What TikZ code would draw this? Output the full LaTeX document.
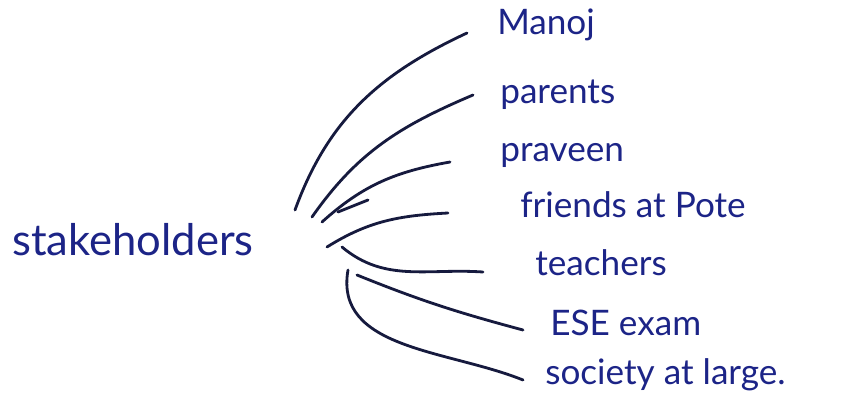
\documentclass[tikz,border=0pt]{standalone}
\usepackage{fontspec}
\setmainfont{Lato}
\usetikzlibrary{calc}
\definecolor{cink}{RGB}{28,36,135}
\definecolor{cpen}{RGB}{22,26,62}

\begin{document}
\begin{tikzpicture}[font=\fontsize{25}{29}\selectfont,
   label/.style={text=cink, anchor=west, inner sep=0pt},
   branch/.style={cpen, line width=2pt, line cap=round}]
  \useasboundingbox (0,0) rectangle (21.4,10.35);
  \node[label, font=\fontsize{31}{35}\selectfont] (sh) at (0.3,4.35) {stakeholders};
  \node[label] (mj) at (12.425,9.725) {Manoj};
  \node[label] (pa) at (12.5,7.975) {parents};
  \node[label] (pr) at (12.5,6.475) {praveen};
  \node[label] (fr) at (13.0,5.225) {friends at Pote};
  \node[label] (te) at (13.375,3.775) {teachers};
  \node[label] (es) at (13.75,2.275) {ESE exam};
  \node[label] (so) at (13.625,0.975) {society at large.};
  \draw[branch] ($(sh.west)+(7.075,0.75)$) to[out=70,in=205] ($(mj.west)+(-0.75,-0.2)$);
  \draw[branch] ($(sh.west)+(7.5,0.575)$) to[out=55,in=203] ($(pa.west)+(-0.675,0)$);
  \draw[branch] ($(sh.west)+(7.75,0.45)$) to[out=42,in=190] ($(pr.west)+(-1.25,-0.175)$);
  \draw[branch] ($(sh.west)+(8.15,0.7)$) -- ($(sh.west)+(8.9,1.0)$);
  \draw[branch] ($(sh.west)+(7.875,-0.175)$) to[out=32,in=183] ($(fr.west)+(-1.8,-0.2)$);
  \draw[branch] ($(sh.west)+(8.25,-0.175)$) to[out=-40,in=176] ($(te.west)+(-1.3,-0.225)$);
  \draw[branch] ($(sh.west)+(8.625,-0.875)$) to[out=-22,in=165] ($(es.west)+(-0.675,-0.175)$);
  \draw[branch] ($(sh.west)+(8.4,-0.75)$) to[out=-100,in=158] ($(so.west)+(-0.55,-0.125)$);
\end{tikzpicture}
\end{document}
